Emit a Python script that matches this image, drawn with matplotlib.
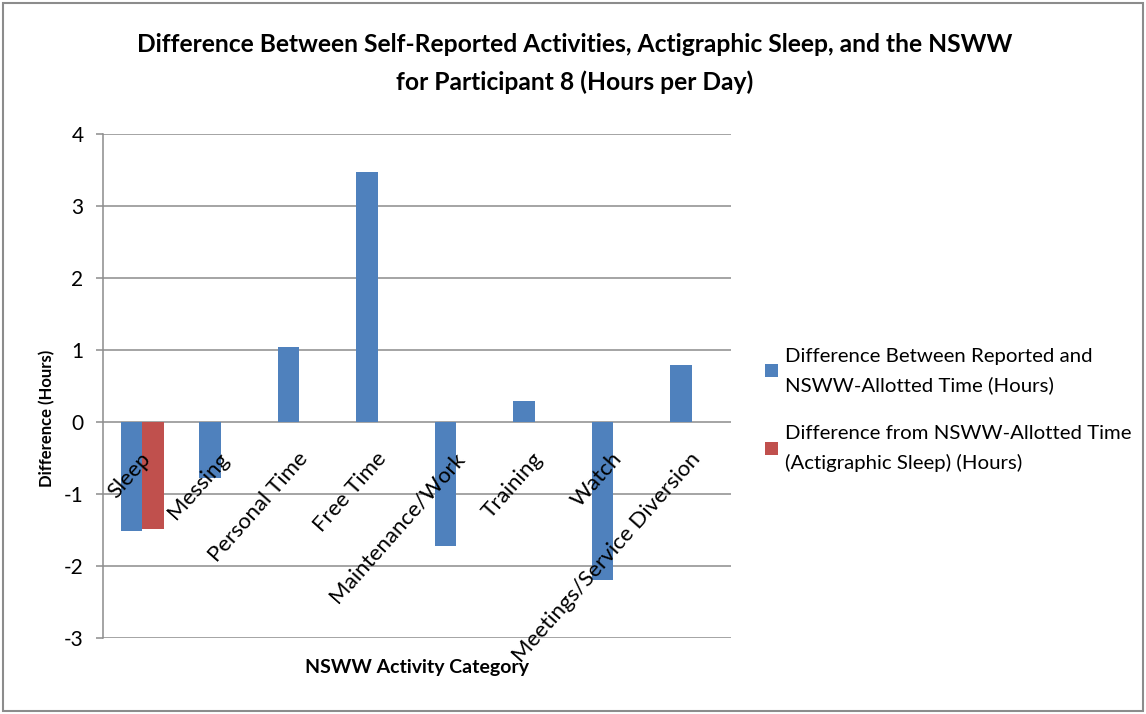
import matplotlib
matplotlib.use("Agg")
import matplotlib.pyplot as plt
from matplotlib.patches import Rectangle
import numpy as np

plt.rcParams['font.family'] = ['Lato', 'DejaVu Sans']

# data
categories = ['Sleep', 'Messing', 'Personal Time', 'Free Time', 'Maintenance/Work',
              'Training', 'Watch', 'Meetings/Service Diversion']
reported_diff = [-1.52, -0.78, 1.04, 3.47, -1.72, 0.29, -2.19, 0.79]
actigraphic_diff = [-1.49, np.nan, np.nan, np.nan, np.nan, np.nan, np.nan, np.nan]
series_names = ['Difference Between Reported and\nNSWW-Allotted Time (Hours)',
                'Difference from NSWW-Allotted Time\n(Actigraphic Sleep) (Hours)']
y_ticks = [-3, -2, -1, 0, 1, 2, 3, 4]

W, H = 1146, 714
fig = plt.figure(figsize=(W / 100, H / 100), dpi=100)
ax = fig.add_axes([103 / W, 1 - 638 / H, 628 / W, 504 / H])

x = np.arange(len(categories))
bw = 0.273
ax.bar(x - bw / 2, reported_diff, bw, color='#4F81BD', label=series_names[0], zorder=3)
ax.bar(x + bw / 2, actigraphic_diff, bw, color='#C0504D', label=series_names[1], zorder=3)

ax.set_xlim(-0.5, len(categories) - 0.5)
ax.set_ylim(-3, 4)
ax.set_yticks(y_ticks)
ax.set_yticklabels([str(t) for t in y_ticks], fontsize=15)
ax.set_xticks([])
for t in y_ticks:
    ax.axhline(t, color='#8c8c8c', lw=1.1, zorder=1)
for s in ['top', 'right', 'bottom']:
    ax.spines[s].set_visible(False)
ax.spines['left'].set_color('#8c8c8c')
ax.spines['left'].set_linewidth(1.1)
ax.tick_params(axis='y', direction='out', length=5, color='#8c8c8c', width=1.1, pad=9)

# category labels hang off the zero line, rotated like Excel
for i, name in enumerate(categories):
    ax.text(i + 0.06, -0.46, name, rotation=48.5, rotation_mode='anchor',
            ha='right', va='center', fontsize=16, zorder=4)

fig.text(575 / W, 1 - 45 / H, 'Difference Between Self-Reported Activities, Actigraphic Sleep, and the NSWW',
         ha='center', va='center', fontsize=17.7, fontweight='bold')
fig.text(575 / W, 1 - 82 / H, 'for Participant 8 (Hours per Day)',
         ha='center', va='center', fontsize=17.7, fontweight='bold')
fig.text(417 / W, 1 - 667 / H, 'NSWW Activity Category', ha='center', va='center',
         fontsize=14, fontweight='bold')
fig.text(47 / W, 1 - 418 / H, 'Difference (Hours)', ha='center', va='center',
         rotation=90, fontsize=12, fontweight='bold')

leg = ax.legend(loc='center left', bbox_to_anchor=(747 / W, 1 - 410 / H),
                bbox_transform=fig.transFigure, frameon=False, fontsize=14.7,
                handlelength=0.6, handleheight=0.6, handletextpad=0.35,
                labelspacing=1.5)
for txt in leg.get_texts():
    txt.set_linespacing(1.8)

fig.patches.append(Rectangle((3 / W, 3 / H), 1140 / W, 708 / H, transform=fig.transFigure,
                             fill=False, edgecolor='#8c8c8c', lw=1.5))

fig.savefig('out.png', dpi=100)
